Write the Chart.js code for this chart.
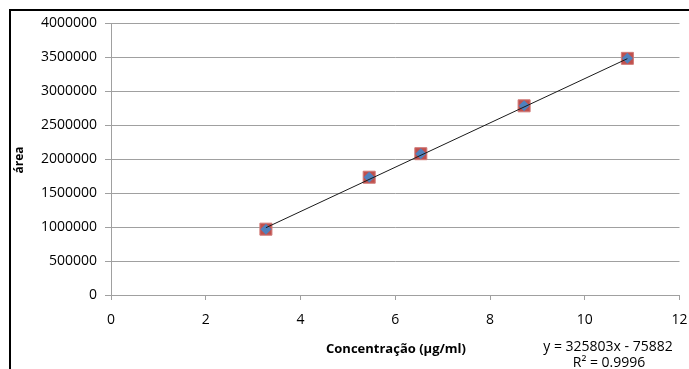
<!DOCTYPE html>
<html>
<head>
<meta charset="utf-8">
<script src="https://cdn.jsdelivr.net/npm/chart.js@4.4.1/dist/chart.umd.min.js"></script>
<style>
  html, body { margin: 0; padding: 0; background: #fff; }
  #wrap { position: relative; width: 689px; height: 369px; overflow: hidden; }
  #frame { position: absolute; left: 9px; top: 9px; width: 700px; height: 400px;
           border-left: 2px solid #000; border-top: 2px solid #000; pointer-events: none; }
  canvas { position: absolute; left: 0; top: 0; }
</style>
</head>
<body>
<div id="wrap">
  <canvas id="c" width="689" height="369"></canvas>
  <div id="frame"></div>
</div>
<script>
// Calibration data: concentration (µg/ml) vs peak area
const concentrations = [3.27, 5.45, 6.54, 8.72, 10.9];
const areas = [968000, 1732000, 2078000, 2782000, 3480000];

// Linear fit reported on the chart
const slope = 325803;
const intercept = -75882;
const rSquared = '0.9996';

const xTicks = [0, 2, 4, 6, 8, 10, 12];
const yTicks = [0, 500000, 1000000, 1500000, 2000000, 2500000, 3000000, 3500000, 4000000];

const points = concentrations.map((x, i) => ({ x: x, y: areas[i] }));
const xFirst = concentrations[0];
const xLast = concentrations[concentrations.length - 1];
const fitLine = [
  { x: xFirst, y: slope * xFirst + intercept },
  { x: xLast, y: slope * xLast + intercept }
];

const FONT = "'Open Sans', sans-serif";
const GRID = '#a0a0a0';

const labelsPlugin = {
  id: 'labels',
  afterDraw(chart) {
    const ctx = chart.ctx;
    ctx.save();
    ctx.fillStyle = '#000';
    ctx.textBaseline = 'middle';
    // x-axis title
    ctx.font = "bold 13px " + FONT;
    ctx.textAlign = 'center';
    ctx.fillText('Concentração (µg/ml)', 396, 349);
    // y-axis title
    ctx.save();
    ctx.translate(20, 160);
    ctx.rotate(-Math.PI / 2);
    ctx.font = "bold 12px " + FONT;
    ctx.fillText('área', 0, 0);
    ctx.restore();
    // trendline equation
    ctx.font = "14px " + FONT;
    const sign = intercept < 0 ? ' - ' : ' + ';
    ctx.fillText('y = ' + slope + 'x' + sign + Math.abs(intercept), 608, 347);
    ctx.fillText('R² = ' + rSquared, 609, 363);
    ctx.restore();
  }
};

new Chart(document.getElementById('c'), {
  type: 'scatter',
  data: {
    datasets: [
      {
        label: 'fit',
        type: 'line',
        data: fitLine,
        borderColor: '#1a1a1a',
        borderWidth: 1,
        pointRadius: 0,
        fill: false,
        order: 0
      },
      {
        label: 'area',
        data: points,
        pointStyle: 'rectRot',
        pointRadius: 5.5,
        backgroundColor: '#4f81bd',
        borderColor: '#4f81bd',
        borderWidth: 0,
        order: 1
      },
      {
        label: 'area-marker',
        data: points,
        pointStyle: 'rect',
        pointRadius: 8.5,
        backgroundColor: '#c0504d',
        borderColor: '#d07a78',
        borderWidth: 1,
        order: 2
      }
    ]
  },
  options: {
    responsive: false,
    animation: false,
    events: [],
    layout: { padding: { left: 0, right: 9, top: 23, bottom: 0 } },
    plugins: {
      legend: { display: false },
      tooltip: { enabled: false }
    },
    scales: {
      x: {
        type: 'linear',
        min: 0, max: 12,
        afterBuildTicks(scale) { scale.ticks = xTicks.map(v => ({ value: v })); },
        afterFit(scale) {
          scale.height = 74;
          scale.paddingLeft = 0;
          scale.paddingRight = 0;
        },
        grid: { drawOnChartArea: false, drawTicks: true, tickLength: 5, color: GRID },
        border: { display: true, color: GRID, width: 1 },
        ticks: { color: '#000', font: { family: FONT, size: 14 }, padding: 12, maxRotation: 0 }
      },
      y: {
        type: 'linear',
        min: 0, max: 4000000,
        afterBuildTicks(scale) { scale.ticks = yTicks.map(v => ({ value: v })); },
        afterFit(scale) {
          scale.width = 111;
          scale.paddingTop = 0;
          scale.paddingBottom = 0;
        },
        grid: { drawOnChartArea: true, drawTicks: true, tickLength: 6, color: GRID },
        border: { display: true, color: GRID, width: 1 },
        ticks: { color: '#000', font: { family: FONT, size: 14 }, padding: 8,
                 callback: v => String(v) }
      }
    }
  },
  plugins: [labelsPlugin]
});
</script>
</body>
</html>
